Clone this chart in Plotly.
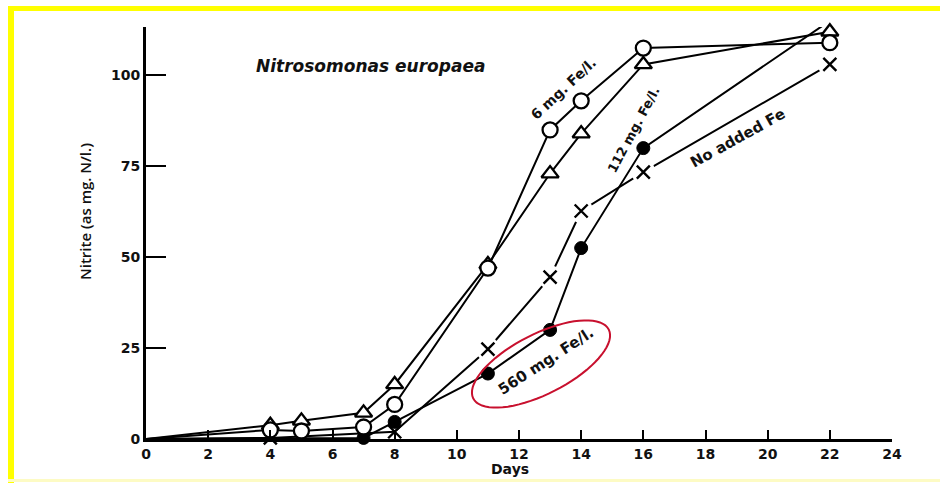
import numpy as np
import plotly.graph_objects as go

# ---- data ----
days_6mg = [0, 4, 5, 7, 8, 11, 13, 14, 16, 22]
nitrite_6mg = [0, 2.5, 2.2, 3.3, 9.5, 47, 85, 93, 107.5, 109]

days_112mg = [0, 4, 5, 7, 8, 11, 13, 14, 16, 22]
nitrite_112mg = [0, 3.8, 5.0, 7.2, 15, 48, 73, 84, 103, 112]

days_560mg = [0, 7, 8, 11, 13, 14, 16, 22]
nitrite_560mg = [0, 0.3, 4.7, 18, 30, 52.5, 80, 115]

days_nofe = [0, 4, 8, 11, 13, 14, 16, 22]
nitrite_nofe = [0, 0.3, 2.0, 24.7, 44.5, 62.7, 73.4, 103]

x_ticks = list(range(0, 25, 2))
y_ticks = [0, 25, 50, 75, 100]

# ---- layout geometry (pixels) ----
W, H = 940, 483
L, R, T, B = 146, 48, 27, 44
PW, PH = W - L - R, H - T - B
FONT = "DejaVu Sans"
INK = "#111111"


def px(x):
    return (x - L) / PW


def py(y):
    return (H - B - y) / PH


fig = go.Figure()


def sizes(n, s):
    return [0] + [s] * (n - 1)


# "No added Fe": line, then white discs (to break the line near each cross), then crosses
fig.add_trace(go.Scatter(
    x=days_nofe, y=nitrite_nofe, mode="lines",
    line=dict(color="black", width=2), cliponaxis=False, hoverinfo="skip"))
fig.add_trace(go.Scatter(
    x=days_nofe[3:], y=nitrite_nofe[3:], mode="markers",
    marker=dict(symbol="circle", size=24, color="white", opacity=1, line=dict(width=0)),
    cliponaxis=False, hoverinfo="skip"))
fig.add_trace(go.Scatter(
    x=days_nofe, y=nitrite_nofe, mode="markers",
    marker=dict(symbol="x-thin", size=sizes(len(days_nofe), 13), opacity=1,
                line=dict(color="black", width=2.4), color="black"),
    cliponaxis=False, name="No added Fe"))

fig.add_trace(go.Scatter(
    x=days_560mg, y=nitrite_560mg, mode="lines+markers",
    line=dict(color="black", width=2),
    marker=dict(symbol="circle", size=sizes(len(days_560mg), 13), color="black", opacity=1,
                line=dict(color="black", width=1)),
    cliponaxis=False, name="560 mg. Fe/l."))

fig.add_trace(go.Scatter(
    x=days_112mg, y=nitrite_112mg, mode="lines+markers",
    line=dict(color="black", width=2),
    marker=dict(symbol="triangle-up", size=sizes(len(days_112mg), 15), color="white", opacity=1,
                line=dict(color="black", width=2.3)),
    cliponaxis=False, name="112 mg. Fe/l."))

fig.add_trace(go.Scatter(
    x=days_6mg, y=nitrite_6mg, mode="lines+markers",
    line=dict(color="black", width=2),
    marker=dict(symbol="circle", size=sizes(len(days_6mg), 15), color="white", opacity=1,
                line=dict(color="black", width=2.3)),
    cliponaxis=False, name="6 mg. Fe/l."))

# ---- decorations ----
shapes = []
yellow = "#ffff00"
shapes.append(dict(type="rect", xref="paper", yref="paper", x0=px(8), x1=px(14),
                   y0=py(483), y1=py(6), fillcolor=yellow, line=dict(width=0), layer="below"))
shapes.append(dict(type="rect", xref="paper", yref="paper", x0=px(8), x1=px(940),
                   y0=py(11), y1=py(6), fillcolor=yellow, line=dict(width=0), layer="below"))
shapes.append(dict(type="rect", xref="paper", yref="paper", x0=px(8), x1=px(940),
                   y0=py(482), y1=py(479), fillcolor="#fdfbc4", line=dict(width=0), layer="below"))

# red ellipse around the 560 mg label
cx, cy, a, b, phi = 541, 364, 76, 30, np.deg2rad(27)
t = np.linspace(0, 2 * np.pi, 73)
ex = cx + a * np.cos(t) * np.cos(phi) - b * np.sin(t) * np.sin(phi)
ey = cy - (a * np.cos(t) * np.sin(phi) + b * np.sin(t) * np.cos(phi))
path = "M " + " L ".join(f"{px(u):.5f},{py(v):.5f}" for u, v in zip(ex, ey)) + " Z"
shapes.append(dict(type="path", xref="paper", yref="paper", path=path,
                   line=dict(color="#c8102e", width=2)))

ann = []


def label(text, x, y, angle, size, weight="bold", family=FONT):
    ann.append(dict(text=text, xref="paper", yref="paper", x=px(x), y=py(y),
                    xanchor="center", yanchor="middle", textangle=angle, showarrow=False,
                    font=dict(family=family, size=size, color=INK, weight=weight)))


label("<i>Nitrosomonas europaea</i>", 370, 66, 0, 17)
label("6 mg. Fe/l.", 563, 89, -43, 14)
label("112 mg. Fe/l.", 633, 130, -62, 13)
label("No added Fe", 738, 138, -29, 15)
label("560 mg. Fe/l.", 546, 361, -33, 15)
label("Days", 510, 469, 0, 14)
label("Nitrite (as mg. N/l.)", 85, 212, -90, 15, weight=600, family="Open Sans")

fig.update_layout(
    width=W, height=H,
    margin=dict(l=L, r=R, t=T, b=B),
    paper_bgcolor="white", plot_bgcolor="white",
    showlegend=False,
    shapes=shapes, annotations=ann,
    font=dict(family=FONT, size=14, color=INK),
)
tickfont = dict(family=FONT, size=14, color=INK, weight="bold")
fig.update_xaxes(range=[0, 24], tickvals=x_ticks, ticktext=[str(v) for v in x_ticks],
                 showgrid=False, zeroline=False, showline=True, linecolor="black", linewidth=3,
                 ticks="inside", ticklen=9, tickwidth=2, tickcolor="black", tickfont=tickfont)
fig.update_yaxes(range=[0, 113.3], tickvals=y_ticks, ticktext=[str(v) for v in y_ticks],
                 showgrid=False, zeroline=False, showline=True, linecolor="black", linewidth=3,
                 ticks="inside", ticklen=20, tickwidth=2, tickcolor="black", tickfont=tickfont)

fig.write_html("out.html", config={"displayModeBar": False},
               post_script="document.body.style.margin='0';")
